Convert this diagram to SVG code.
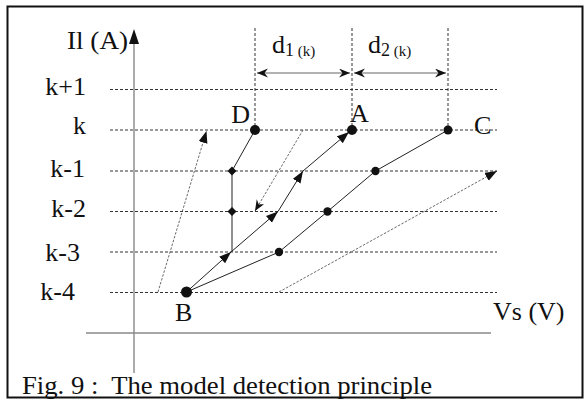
<svg xmlns="http://www.w3.org/2000/svg" width="584" height="407" viewBox="0 0 584 407">
<style>
text{font-family:"Liberation Serif","Times New Roman",serif;fill:#111;font-size:26px}
.grid{stroke:#333;stroke-width:1;stroke-dasharray:3 2;fill:none}
.vdash{stroke:#333;stroke-width:1;stroke-dasharray:3 2;fill:none}
.axis{stroke:#888;stroke-width:1.4;fill:none}
.dim{stroke:#999;stroke-width:1.5;fill:none;marker-start:url(#barb);marker-end:url(#barb)}
.path{stroke:#222;stroke-width:1;fill:none}
.flow{stroke:#222;stroke-width:1;fill:none;marker-end:url(#tri)}
.dot{stroke:#444;stroke-width:0.8;stroke-dasharray:2.5 1.5;fill:none}
.dotA{marker-end:url(#tri)}
.dotB{marker-end:url(#barb)}
.pt{fill:#111}
</style>
<defs>
<marker id="tri" markerUnits="userSpaceOnUse" markerWidth="13" markerHeight="10" refX="12" refY="4.5" orient="auto">
<path d="M0,0 L12,4.5 L0,9 z" fill="#111"/>
</marker>
<marker id="barb" markerUnits="userSpaceOnUse" markerWidth="12" markerHeight="10" refX="11" refY="4.5" orient="auto-start-reverse">
<path d="M0,0 L11,4.5 L0,9 L3.5,4.5 z" fill="#111"/>
</marker>
</defs>
<rect x="7.5" y="6.5" width="575" height="391" fill="#fff" stroke="#111" stroke-width="2"/>

<g id="grid">
<line class="grid" x1="110" y1="89.5" x2="497" y2="89.5"/>
<line class="grid" x1="110" y1="130" x2="497" y2="130"/>
<line class="grid" x1="110" y1="171" x2="497" y2="171"/>
<line class="grid" x1="110" y1="211.5" x2="497" y2="211.5"/>
<line class="grid" x1="110" y1="252" x2="497" y2="252"/>
<line class="grid" x1="110" y1="292.5" x2="497" y2="292.5"/>
<line class="vdash" x1="255" y1="28" x2="255" y2="130"/>
<line class="vdash" x1="352" y1="28" x2="352" y2="130"/>
<line class="vdash" x1="448" y1="28" x2="448" y2="130"/>
</g>

<g id="axes">
<line class="axis" x1="134" y1="40" x2="134" y2="373"/>
<path d="M134,29 L139,44 L129,44 z" fill="#111"/>
<line class="axis" x1="86" y1="333" x2="491" y2="333"/>
<text x="128" y="49" text-anchor="end" textLength="61" lengthAdjust="spacingAndGlyphs">Il (A)</text>
<text x="493" y="320">Vs (V)</text>
</g>

<g id="levels">
<text x="86" y="95" text-anchor="end">k+1</text>
<text x="86" y="134" text-anchor="end">k</text>
<text x="85" y="177" text-anchor="end">k-1</text>
<text x="86" y="217" text-anchor="end">k-2</text>
<text x="80" y="261" text-anchor="end">k-3</text>
<text x="75" y="300" text-anchor="end">k-4</text>
</g>

<g id="connectors">
<line class="dim" x1="257" y1="73" x2="350" y2="73"/>
<line class="dim" x1="354" y1="73" x2="446" y2="73"/>
<polyline class="path" points="448,130 375.5,171 327.5,211.5 279,252 186.5,292"/>
<polyline class="path" points="255,130 232,171 232,252"/>
<line class="flow" x1="186.5" y1="292" x2="231" y2="252"/>
<line class="flow" x1="231" y1="252" x2="278" y2="211.5"/>
<line class="flow" x1="278" y1="211.5" x2="303" y2="171"/>
<line class="flow" x1="303" y1="171" x2="349" y2="132"/>
<line class="dot dotA" x1="158" y1="292" x2="206.5" y2="131"/>
<line class="dot dotB" x1="303" y1="130" x2="255" y2="211"/>
<line class="dot dotA" x1="279" y1="292" x2="497" y2="171"/>
</g>

<g id="dim-labels">
<text x="272" y="53">d<tspan font-size="18" dy="3">1</tspan><tspan font-size="15"> (k)</tspan></text>
<text x="368" y="53">d<tspan font-size="18" dy="3">2</tspan><tspan font-size="15"> (k)</tspan></text>
</g>

<g id="node-D"><circle class="pt" cx="255" cy="130" r="5"/><text x="250" y="123" text-anchor="end">D</text></g>
<g id="node-A"><circle class="pt" cx="352" cy="130" r="5"/><text x="350" y="122">A</text></g>
<g id="node-C"><circle class="pt" cx="448" cy="130" r="4.5"/><text x="474" y="134">C</text></g>
<g id="node-B"><circle class="pt" cx="186.5" cy="292" r="5.5"/><text x="175" y="321">B</text></g>
<g id="node-c1"><circle class="pt" cx="375.5" cy="171" r="4.2"/></g>
<g id="node-c2"><circle class="pt" cx="327.5" cy="211.5" r="4.2"/></g>
<g id="node-c3"><circle class="pt" cx="279" cy="252" r="4.2"/></g>
<g id="node-d1"><path class="pt" d="M232,166.5 L236.5,171 L232,175.5 L227.5,171 z"/></g>
<g id="node-d2"><path class="pt" d="M232,207 L236.5,211.5 L232,216 L227.5,211.5 z"/></g>

<text x="22" y="394" xml:space="preserve" textLength="410" lengthAdjust="spacingAndGlyphs">Fig. 9 :  The model detection principle</text>
</svg>
